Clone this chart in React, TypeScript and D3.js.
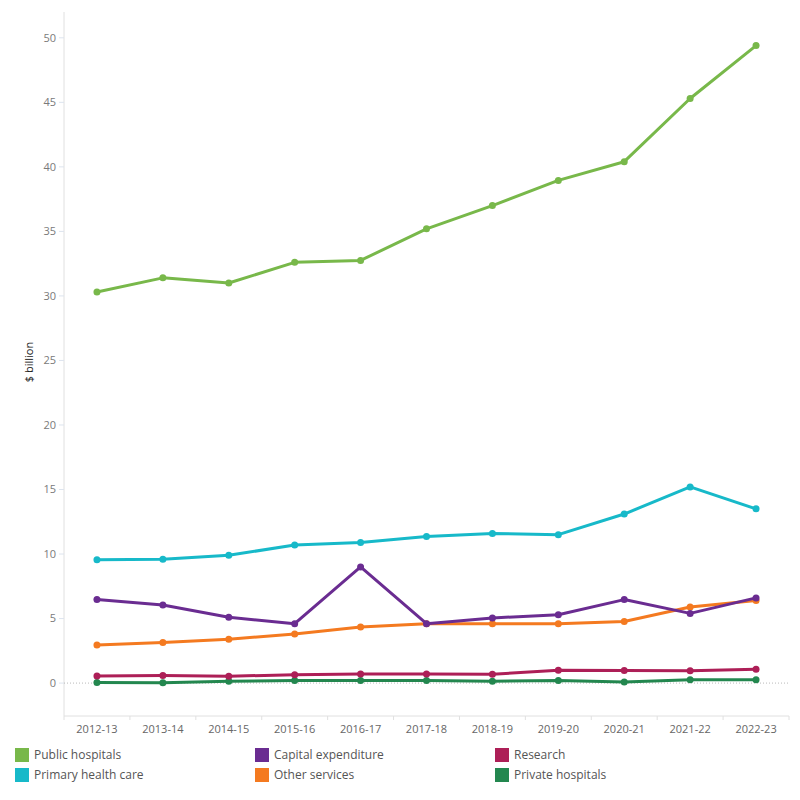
import React, { useEffect, useRef } from 'react';
import * as d3 from 'd3';

const years = ['2012-13', '2013-14', '2014-15', '2015-16', '2016-17', '2017-18', '2018-19', '2019-20', '2020-21', '2021-22', '2022-23'];

const publicHospitals = [30.3, 31.4, 31.0, 32.6, 32.75, 35.2, 37.0, 38.95, 40.4, 45.3, 49.4];
const primaryHealthCare = [9.55, 9.6, 9.9, 10.7, 10.9, 11.35, 11.6, 11.5, 13.1, 15.2, 13.5];
const capitalExpenditure = [6.47, 6.05, 5.1, 4.6, 9.0, 4.6, 5.05, 5.3, 6.47, 5.4, 6.6];
const otherServices = [2.95, 3.15, 3.4, 3.8, 4.35, 4.6, 4.6, 4.6, 4.77, 5.9, 6.4];
const research = [0.55, 0.58, 0.53, 0.65, 0.7, 0.7, 0.68, 1.0, 0.97, 0.95, 1.08];
const privateHospitals = [0.05, 0.03, 0.15, 0.2, 0.2, 0.2, 0.15, 0.2, 0.08, 0.25, 0.25];

const yTicks = [0, 5, 10, 15, 20, 25, 30, 35, 40, 45, 50];

const series = [
    { name: 'Public hospitals', values: publicHospitals, color: '#78b84a' },
    { name: 'Primary health care', values: primaryHealthCare, color: '#17b9c9' },
    { name: 'Capital expenditure', values: capitalExpenditure, color: '#6a2c91' },
    { name: 'Other services', values: otherServices, color: '#f47a20' },
    { name: 'Research', values: research, color: '#ad1f57' },
    { name: 'Private hospitals', values: privateHospitals, color: '#23874f' },
];

// legend order as in the picture (rows of three)
const legendOrder = ['Public hospitals', 'Capital expenditure', 'Research', 'Primary health care', 'Other services', 'Private hospitals'];

const App = () => {
    const ref = useRef<SVGSVGElement | null>(null);

    useEffect(() => {
        const svg = d3.select(ref.current);
        svg.selectAll('*').remove();

        const left = 64, right = 789, top = 12, bottom = 716;
        const font = 'Open Sans, Lato, sans-serif';

        const x = d3.scaleBand<string>().domain(years).range([left, right]);
        const y = d3.scaleLinear().domain([-2.55, 52]).range([bottom, top]);

        // axis lines
        svg.append('line')
            .attr('x1', left).attr('x2', left)
            .attr('y1', top).attr('y2', bottom)
            .attr('stroke', '#e0e0e0');
        svg.append('line')
            .attr('x1', left).attr('x2', right)
            .attr('y1', bottom).attr('y2', bottom)
            .attr('stroke', '#e0e0e0');

        // zero line
        svg.append('line')
            .attr('x1', left).attr('x2', right)
            .attr('y1', y(0)).attr('y2', y(0))
            .attr('stroke', '#bbbbbb')
            .attr('stroke-dasharray', '1,2');

        // y ticks
        const yg = svg.append('g');
        yg.selectAll('line')
            .data(yTicks)
            .enter()
            .append('line')
            .attr('x1', left - 5).attr('x2', left)
            .attr('y1', d => y(d)).attr('y2', d => y(d))
            .attr('stroke', '#dde4ee');
        yg.selectAll('text')
            .data(yTicks)
            .enter()
            .append('text')
            .attr('x', left - 8)
            .attr('y', d => y(d))
            .attr('dy', '0.35em')
            .attr('text-anchor', 'end')
            .style('font-family', font)
            .style('font-size', '11px')
            .style('fill', '#7a7a7a')
            .text(d => d);

        // x ticks between bands
        const xg = svg.append('g');
        xg.selectAll('line')
            .data(years)
            .enter()
            .append('line')
            .attr('x1', d => x(d)! + x.bandwidth())
            .attr('x2', d => x(d)! + x.bandwidth())
            .attr('y1', bottom).attr('y2', bottom + 4)
            .attr('stroke', '#e0e0e0');
        xg.append('line')
            .attr('x1', left).attr('x2', left)
            .attr('y1', bottom).attr('y2', bottom + 4)
            .attr('stroke', '#e0e0e0');
        xg.selectAll('text')
            .data(years)
            .enter()
            .append('text')
            .attr('x', d => x(d)! + x.bandwidth() / 2)
            .attr('y', bottom + 17)
            .attr('text-anchor', 'middle')
            .style('font-family', font)
            .style('font-size', '11px')
            .style('fill', '#666666')
            .text(d => d);

        // y axis title
        svg.append('text')
            .attr('transform', 'translate(33,' + 362 + ') rotate(-90)')
            .attr('text-anchor', 'middle')
            .style('font-family', font)
            .style('font-size', '11px')
            .style('fill', '#222')
            .text('$ billion');

        const line = d3.line<number>()
            .x((d, i) => x(years[i])! + x.bandwidth() / 2)
            .y(d => y(d));

        // draw bottom series first so the big ones sit on top like the original
        const drawOrder = [...series].reverse();
        drawOrder.forEach(s => {
            const g = svg.append('g');
            g.append('path')
                .datum(s.values)
                .attr('fill', 'none')
                .attr('stroke', s.color)
                .attr('stroke-width', 3)
                .attr('stroke-linejoin', 'round')
                .attr('d', line);
            g.selectAll('circle')
                .data(s.values)
                .enter()
                .append('circle')
                .attr('cx', (d, i) => x(years[i])! + x.bandwidth() / 2)
                .attr('cy', d => y(d))
                .attr('r', 3.5)
                .style('fill', s.color);
        });

        // legend
        const lg = svg.append('g');
        legendOrder.forEach((name, i) => {
            const s = series.find(v => v.name === name)!;
            const col = i % 3, row = Math.floor(i / 3);
            const lx = [15, 255, 495][col], ly = 748 + row * 20;
            lg.append('rect')
                .attr('x', lx).attr('y', ly)
                .attr('width', 14).attr('height', 14)
                .style('fill', s.color);
            lg.append('text')
                .attr('x', lx + 19)
                .attr('y', ly + 7)
                .attr('dy', '0.35em')
                .style('font-family', font)
                .style('font-size', '12px')
                .style('fill', '#555')
                .text(name);
        });
    }, []);

    return (
        <svg ref={ref} width={800} height={792} style={{ display: 'block', margin: '-8px 0 0 -8px' }}></svg>
    );
};

export default App;
